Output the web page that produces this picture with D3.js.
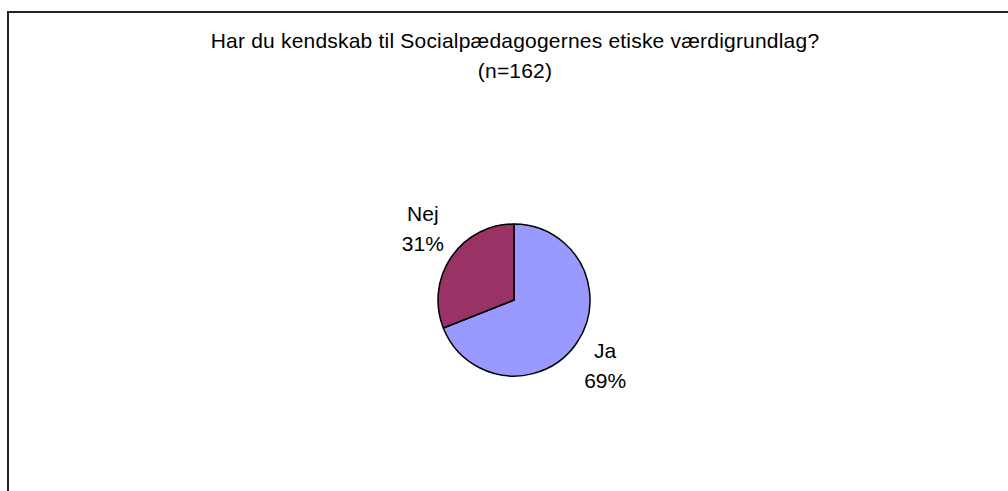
<!DOCTYPE html>
<html>
<head>
<meta charset="utf-8">
<script src="https://cdn.jsdelivr.net/npm/d3@7"></script>
<style>
	body { margin: 0; background: #fff; }
	svg { display: block; font-family: "Liberation Sans", Arial, sans-serif; }
</style>
</head>
<body>
<div id="chart"></div>
<script>
// jshint esversion: 8

var categories = ["Ja", "Nej"];
var values = [69, 31];
var titleLines = ["Har du kendskab til Socialpædagogernes etiske værdigrundlag?", "(n=162)"];

var width = 1008, height = 491;
var cx = 514, cy = 300, radius = 76;
var fontSize = 21;
var fills = ["#9999ff", "#993366"];

var svg = d3.select("#chart").append("svg")
	.attr("width", width)
	.attr("height", height);

// chart frame, runs off the right and bottom edge
svg.append("rect")
	.attr("x", 8)
	.attr("y", 12)
	.attr("width", 1012)
	.attr("height", 500)
	.attr("fill", "#fff")
	.attr("stroke", "#222")
	.attr("stroke-width", 2);

var title = svg.append("text")
	.attr("text-anchor", "middle")
	.attr("font-size", fontSize)
	.attr("letter-spacing", 0.2)
	.attr("fill", "#000");

title.selectAll("tspan").data(titleLines).enter().append("tspan")
	.attr("x", cx + 1)
	.attr("y", function(d, i) { return 48 + i * 30; })
	.text(function(d) { return d; });

var data = categories.map(function(c, i) { return { label: c, value: values[i], fill: fills[i] }; });

var pie = d3.pie()
	.sort(null)
	.value(function(d) { return d.value; });

var arc = d3.arc()
	.innerRadius(0)
	.outerRadius(radius);

var labelArc = d3.arc()
	.innerRadius(radius * 1.45)
	.outerRadius(radius * 1.45);

var g = svg.append("g").attr("transform", "translate(" + cx + "," + cy + ")");
var arcs = pie(data);

g.selectAll(".slice").data(arcs).enter().append("path")
	.attr("class", "slice")
	.attr("d", arc)
	.attr("fill", function(d) { return d.data.fill; })
	.attr("stroke", "#000")
	.attr("stroke-width", 1.5)
	.attr("stroke-linejoin", "round");

var labels = g.selectAll(".label").data(arcs).enter().append("text")
	.attr("class", "label")
	.attr("text-anchor", "middle")
	.attr("font-size", fontSize)
	.attr("fill", "#000")
	.attr("transform", function(d) {
		var c = labelArc.centroid(d);
		return "translate(" + c[0] + "," + (c[1] * 1.1 - 3) + ")";
	});

labels.append("tspan")
	.attr("x", 0)
	.attr("y", -7.5)
	.text(function(d) { return d.data.label; });

labels.append("tspan")
	.attr("x", 0)
	.attr("y", 22.5)
	.text(function(d) { return d.data.value + "%"; });
</script>
</body>
</html>
